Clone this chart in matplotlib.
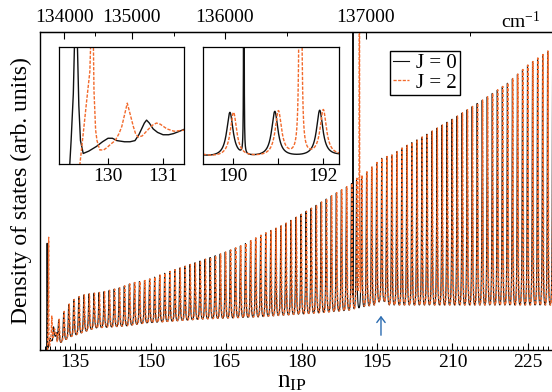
import numpy as np
import matplotlib.pyplot as plt
from matplotlib.ticker import FixedLocator, NullLocator

plt.rcParams['font.family'] = ['Liberation Serif', 'DejaVu Serif']
plt.rcParams['mathtext.fontset'] = 'custom'
plt.rcParams['mathtext.rm'] = 'Liberation Serif'

# ---- data ----
# envelope of the Rydberg peaks (n_IP, arb. units) above n = 131.4
peak_n = [131.4, 131.7, 132.6, 133.6, 134.6, 135.6, 136.6, 137.6, 140.4, 143.7, 146.3,
          149.3, 152.4, 156.4, 160.4, 164.4, 168.3, 172.0, 176.3, 179.7, 183.0, 186.2,
          189.6, 192.0, 194.0, 196.0, 198.0, 200.0, 204.0, 208.0, 211.0, 216.0, 221.0,
          225.0, 231.0]
peak_v = [0.30, 0.30, 0.37, 0.45, 0.50, 0.53, 0.55, 0.56, 0.58, 0.62, 0.67,
          0.70, 0.76, 0.83, 0.90, 0.97, 1.05, 1.15, 1.25, 1.35, 1.45, 1.55,
          1.65, 1.73, 1.83, 1.92, 1.95, 2.02, 2.13, 2.25, 2.34, 2.50, 2.67,
          2.85, 3.06]
trough_n = [131.4, 132.0, 134.0, 136.7, 139.0, 145.0, 149.0, 160.4, 171.0, 183.0,
            190.0, 192.0, 194.5, 196.0, 197.5, 210.0, 231.0]
trough_v = [0.08, 0.07, 0.13, 0.18, 0.22, 0.24, 0.27, 0.31, 0.33, 0.37,
            0.40, 0.43, 0.45, 0.50, 0.45, 0.45, 0.45]
width_n = [131.0, 150.0, 190.0, 231.0]
width_v = [0.13, 0.10, 0.085, 0.075]
# peak position offsets from integer n
off_n = [131.0, 190.0, 231.0]
off_j0 = [-0.30, -0.07, -0.07]
off_j2 = [-0.20, 0.01, 0.01]
# narrow perturber lines (centre, height, half width)
pert_j0 = (190.24, 30.0, 0.003)
pert_j2 = (191.50, 50.0, 0.010)

# threshold region n < 131.4 (fraction of inset height)
thr_n_j0 = [129.11, 129.30, 129.33, 129.37, 129.40, 129.42, 129.44, 129.47, 129.50, 129.55,
            129.65, 129.79, 129.90, 130.00, 130.08, 130.16, 130.30, 130.40, 130.49, 130.56,
            130.61, 130.66, 130.70, 130.75, 130.82, 130.90, 131.00, 131.10, 131.19, 131.30,
            131.40]
thr_u_j0 = [-0.10, -0.05, 0.20, 0.60, 1.20, 1.49, 1.10, 0.50, 0.20, 0.09,
            0.11, 0.15, 0.19, 0.22, 0.22, 0.20, 0.19, 0.19, 0.20, 0.25,
            0.30, 0.35, 0.375, 0.35, 0.30, 0.27, 0.25, 0.25, 0.26, 0.28,
            0.30]
thr_n_j2 = [129.11, 129.45, 129.49, 129.55, 129.61, 129.67, 129.72, 129.745, 129.775, 129.80,
            129.85, 129.92, 129.98, 130.05, 130.13, 130.20, 130.25, 130.30, 130.35, 130.40,
            130.46, 130.50, 130.55, 130.62, 130.70, 130.80, 130.88, 130.95, 131.07, 131.20,
            131.40]
thr_u_j2 = [-0.10, -0.10, 0.00, 0.26, 0.53, 0.79, 1.57, 0.63, 0.29, 0.20,
            0.12, 0.12, 0.14, 0.17, 0.20, 0.26, 0.32, 0.42, 0.52, 0.43,
            0.32, 0.26, 0.23, 0.24, 0.28, 0.33, 0.35, 0.34, 0.30, 0.28,
            0.29]

# top axis: photon energy in cm-1
IP_CM = 139710.0
N_SCALE = 1.007e8
cm_major = [134000, 135000, 136000, 137000]
cm_minor = [134500, 135500, 136500, 137500]
arrow_n, arrow_y0, arrow_y1 = 195.8, 0.12, 0.37


def rydberg(x, off_v, pert):
    trough = np.interp(x, trough_n, trough_v)
    peak = np.interp(x, peak_n, peak_v)
    gam = np.interp(x, width_n, width_v)
    ph = x - np.interp(x, off_n, off_v)
    c = np.cosh(2 * np.pi * gam)
    cs = np.cos(2 * np.pi * ph)
    f = (1 + cs) * (c - 1) / (2 * (c - cs))
    pc, ph_, pg = pert
    return trough + (peak - trough) * f + ph_ * pg**2 / ((x - pc)**2 + pg**2)


def to_main(u):
    return 0.75 * np.asarray(u) - 0.05


xs = np.sort(np.concatenate([np.arange(131.4, 230.7, 0.001), [pert_j0[0], pert_j2[0]]]))
y_j0 = rydberg(xs, off_j0, pert_j0)
y_j2 = rydberg(xs, off_j2, pert_j2)

x_all_j0 = np.concatenate([thr_n_j0, xs])
y_all_j0 = np.concatenate([to_main(thr_u_j0), y_j0])
x_all_j2 = np.concatenate([thr_n_j2, xs])
y_all_j2 = np.concatenate([to_main(thr_u_j2), y_j2])

orange = '#f26a2c'
dash = (0, (2.4, 1.1))

fig = plt.figure(figsize=(5.52, 3.92), dpi=100)
ax = fig.add_axes([40/552, 42/392, 516/552, 318/392])
ax.plot(x_all_j0, y_all_j0, color='#111111', lw=0.8, label='J = 0')
ax.plot(x_all_j2, y_all_j2, color=orange, lw=0.95, ls=dash, label='J = 2')
ax.set_xlim(128.0, 230.6)
ax.set_ylim(0, 3.18)
ax.set_xticks(np.arange(135, 226, 15))
ax.xaxis.set_minor_locator(FixedLocator(np.arange(129, 231, 1)))
ax.set_yticks([])
ax.tick_params(axis='x', which='major', direction='in', length=5, width=0.8,
               labelsize=14, pad=3, top=False)
ax.tick_params(axis='x', which='minor', direction='in', length=2.8, width=0.7, top=False)
for s in ax.spines.values():
    s.set_linewidth(1.0)
ax.set_xlabel(r'$\mathregular{n_{IP}}$', fontsize=18, va='top')
ax.xaxis.set_label_coords(0.488, -0.066)
ax.set_ylabel('Density of states (arb. units)', fontsize=17, labelpad=6)

secax = ax.secondary_xaxis(
    'top',
    functions=(lambda n: IP_CM - N_SCALE / np.maximum(np.asarray(n, float), 1.0)**2,
               lambda e: np.sqrt(N_SCALE / np.clip(IP_CM - np.asarray(e, float), 1e-6, None))))
secax.set_xticks(cm_major)
secax.set_xticklabels([str(v) for v in cm_major])
secax.xaxis.set_minor_locator(FixedLocator(cm_minor))
secax.tick_params(which='major', direction='in', length=5, width=0.8, labelsize=14, pad=4)
secax.tick_params(which='minor', direction='in', length=2.8, width=0.7)
fig.text(541/552, 1 - 28/392, r'cm$\mathregular{^{-1}}$', fontsize=14, ha='right', va='baseline')

ax.annotate('', xy=(arrow_n, arrow_y1), xytext=(arrow_n, arrow_y0),
            arrowprops=dict(arrowstyle='->, head_width=0.3, head_length=0.4',
                            color='#2a6bb0', lw=1.0))

leg = ax.legend(loc='upper left', bbox_to_anchor=(390/552, 1 - 51/392),
                bbox_transform=fig.transFigure, fontsize=15, frameon=True,
                fancybox=False, framealpha=1, edgecolor='black', borderpad=0.12,
                labelspacing=0.0, handlelength=0.8, handletextpad=0.35, borderaxespad=0)
leg.get_frame().set_linewidth(1.0)

# left inset: threshold region
ins1 = fig.add_axes([59/552, (392-164)/392, 125/552, 117/392])
ins1.plot(thr_n_j0, thr_u_j0, color='#111111', lw=1.0)
ins1.plot(thr_n_j2, thr_u_j2, color=orange, lw=1.0, ls=dash)
ins1.set_xlim(129.11, 131.38)
ins1.set_ylim(0, 1)
ins1.set_xticks([130, 131])

# right inset: around the perturbers
sel = (xs > 189.2) & (xs < 192.5)
ins2 = fig.add_axes([203/552, (392-164)/392, 136/552, 117/392])
ins2.plot(xs[sel], y_j0[sel], color='#111111', lw=1.0)
ins2.plot(xs[sel], y_j2[sel], color=orange, lw=1.0, ls=dash)
ins2.set_xlim(189.33, 192.36)
ins2.set_ylim(0.134, 3.6)
ins2.set_xticks([190, 192])
ins2.xaxis.set_minor_locator(FixedLocator([191]))

for a in (ins1, ins2):
    a.set_yticks([])
    a.yaxis.set_minor_locator(NullLocator())
    a.tick_params(axis='x', which='both', direction='in', length=4, width=0.8,
                  labelsize=14, pad=3)
    for s in a.spines.values():
        s.set_linewidth(0.9)

fig.savefig('out.png', dpi=100)
